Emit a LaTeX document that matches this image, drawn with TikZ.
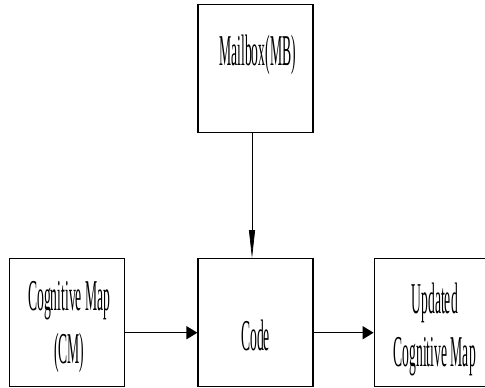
\documentclass[tikz,border=0pt]{standalone}
\usepackage{graphicx}
\usepackage{fontspec}
\setmainfont{Liberation Serif}
\usetikzlibrary{arrows.meta,positioning}

\newcommand{\sq}[1]{\scalebox{0.31}[1]{#1}}

\begin{document}
\begin{tikzpicture}[
    x = 0.5pt, y = 0.5pt, % one unit is one pixel of the reference
    node distance = 30pt, % distance between boxes
    thin % line style
    ]

    \tikzset{block/.style={
    draw = black,
    line width = 0.6pt,
    minimum width = 57.5pt,
    minimum height = 64pt,
    inner sep = 0pt
    }}
    \tikzset{lbl/.style={
    align = center,
    anchor = base, % baseline of the last line
    inner sep = 0pt,
    font = \fontsize{22}{26.5}\selectfont
    }}

    \clip (0,0) rectangle (485,387);
    \useasboundingbox (0,0) rectangle (485,387);

    \node[block] (mb) at (255.5,318.5) {};
    \node[block] (code) [below=62.5pt of mb] {};
    \node[block] (cm) [left=36pt of code] {};
    \node[block] (upd) [right=30pt of code] {};

    \node[lbl] (mbtxt) at ([xshift=1pt,yshift=1.5pt]mb.center) {\sq{Mailbox(MB)}};
    \node[lbl] (cmtxt) at ([xshift=1pt,yshift=-20.5pt]cm.center) {\sq{Cognitive Map}\\\sq{(CM)}};
    \node[lbl] (codetxt) at ([yshift=-14pt]code.center) {\sq{Code}};
    \node[lbl] (updtxt) at ([xshift=1.5pt,yshift=-22pt]upd.center) {\sq{Updated}\\\sq{Cognitive Map}};

    \draw[line width=0.75pt, -{Triangle[length=5.5pt,width=6.5pt]}] ([yshift=-5pt]cm.east) -- ([yshift=-5pt]code.west);
    \draw[line width=0.75pt, -{Triangle[length=5.5pt,width=6.5pt]}] ([yshift=-5pt]code.east) -- ([yshift=-5pt]upd.west);
    \draw[line width=0.35pt, -{Triangle[length=14pt,width=3pt]}] ([xshift=-1.75pt]mb.south) -- ([xshift=-1.75pt]code.north);
\end{tikzpicture}
\end{document}
